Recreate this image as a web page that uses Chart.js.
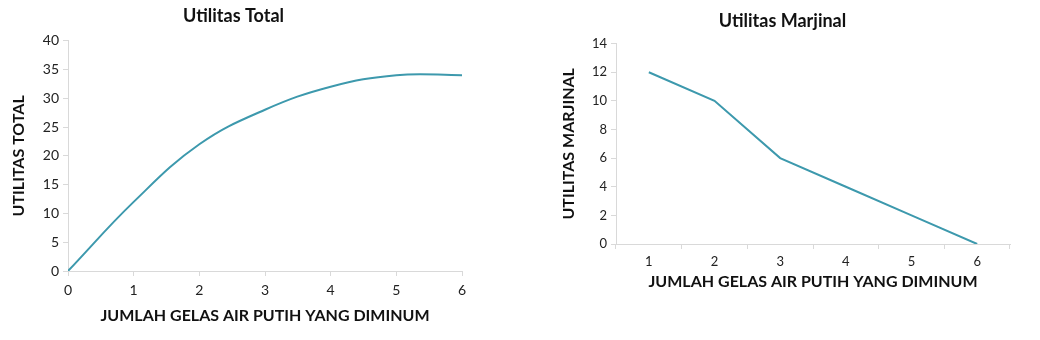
<!DOCTYPE html>
<html>
<head>
<meta charset="utf-8">
<script src="https://cdn.jsdelivr.net/npm/chart.js@4"></script>
<style>
  body { margin: 0; background: #fff; }
  .box { position: absolute; top: 0; width: 520px; height: 340px; }
</style>
</head>
<body>
<div class="box" style="left:0"><canvas id="chart1"></canvas></div>
<div class="box" style="left:520px"><canvas id="chart2"></canvas></div>
<script>
// data
var glasses = [0, 1, 2, 3, 4, 5, 6];
var totalUtility = [0, 12, 22, 28, 32, 34, 34];
var mgLabels = ["1", "2", "3", "4", "5", "6"];
var marginalUtility = [12, 10, 6, 4, 2, 0];

var lineColor = "#3d99ad";
var axisColor = "#d9d9d9";
var textColor = "#222";
var xTitle = "JUMLAH GELAS AIR PUTIH YANG DIMINUM";

Chart.defaults.font.family = "Lato, 'DejaVu Sans', sans-serif";
Chart.defaults.color = textColor;

function axisTitle(text, size) {
  return { display: true, text: text, color: "#111", font: { size: size, weight: "bold" } };
}

new Chart("chart1", {
  type: "line",
  data: {
    datasets: [{
      data: glasses.map(function (g, i) { return { x: g, y: totalUtility[i] }; }),
      borderColor: lineColor,
      borderWidth: 2,
      pointRadius: 0,
      fill: false,
      tension: 0.4
    }]
  },
  options: {
    responsive: true,
    maintainAspectRatio: false,
    animation: false,
    layout: { padding: { left: 5, right: 58, top: 0, bottom: 11 } },
    plugins: {
      legend: { display: false },
      tooltip: { enabled: false },
      title: {
        display: true,
        text: "Utilitas Total",
        color: "#111",
        font: { size: 18, weight: "bold" },
        padding: { top: 5, bottom: 14 }
      }
    },
    scales: {
      x: {
        type: "linear",
        min: 0, max: 6,
        ticks: { stepSize: 1, font: { size: 14 }, padding: 6 },
        grid: { drawOnChartArea: false, color: axisColor, tickLength: 5 },
        border: { color: axisColor },
        title: axisTitle(xTitle, 16),
        afterFit: function (s) { s.height = 58; }
      },
      y: {
        min: 0, max: 40,
        ticks: { stepSize: 5, font: { size: 14 }, padding: 4 },
        grid: { drawOnChartArea: false, color: axisColor, tickLength: 5 },
        border: { color: axisColor },
        title: axisTitle("UTILITAS TOTAL", 16),
        afterFit: function (s) { s.width = 63; }
      }
    }
  }
});

new Chart("chart2", {
  type: "line",
  data: {
    labels: mgLabels,
    datasets: [{
      data: marginalUtility,
      borderColor: lineColor,
      borderWidth: 2,
      pointRadius: 0,
      fill: false,
      tension: 0
    }]
  },
  options: {
    responsive: true,
    maintainAspectRatio: false,
    animation: false,
    layout: { padding: { left: 35, right: 30, top: 0, bottom: 45 } },
    plugins: {
      legend: { display: false },
      tooltip: { enabled: false },
      title: {
        display: true,
        text: "Utilitas Marjinal",
        color: "#111",
        font: { size: 18, weight: "bold" },
        padding: { top: 10, bottom: 12 }
      }
    },
    scales: {
      x: {
        offset: true,
        ticks: { font: { size: 13 }, padding: 5 },
        grid: { offset: true, drawOnChartArea: false, color: axisColor, tickLength: 5 },
        border: { color: axisColor },
        title: axisTitle(xTitle, 16),
        afterFit: function (s) { s.height = 51; }
      },
      y: {
        min: 0, max: 14,
        ticks: { stepSize: 2, font: { size: 13 }, padding: 4 },
        grid: { drawOnChartArea: false, color: axisColor, tickLength: 5 },
        border: { color: axisColor },
        title: axisTitle("UTILITAS MARJINAL", 16),
        afterFit: function (s) { s.width = 61; }
      }
    }
  }
});
</script>
</body>
</html>
